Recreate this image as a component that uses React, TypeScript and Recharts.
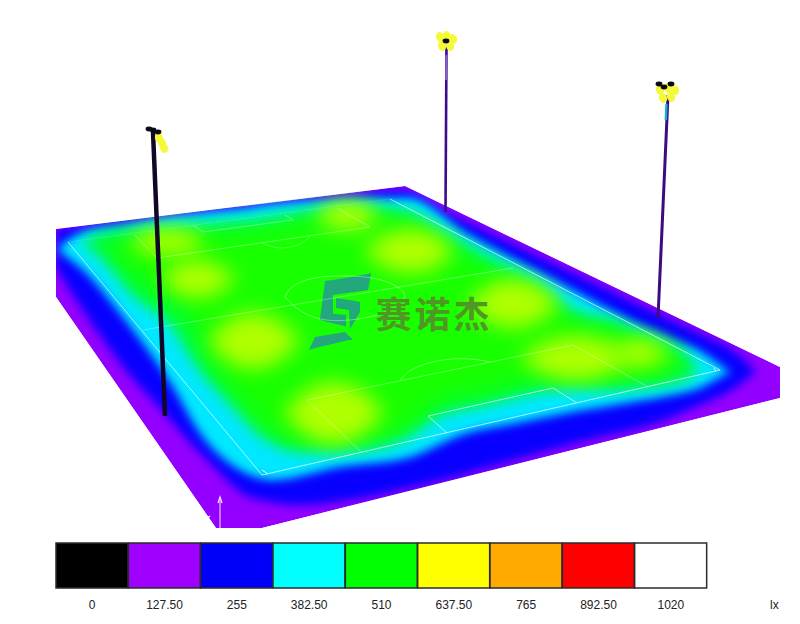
import { Area, Bar, BarChart, Cell, ComposedChart, Line, Scatter, XAxis, YAxis } from "recharts";

// every outline is [x, upper y, lower y] in image pixels
type Row = [number, number, number];
type Pt = [number, number];

const plate: Row[] = [[56, 229, 297], [216, 209, 528], [262, 204, 528], [405, 186, 492], [780, 367, 398]];
const maskTop: Row[] = [[0, 0, 624], [56, 0, 624], [56, 0, 229], [405, 0, 186], [780, 0, 367], [780, 0, 624], [800, 0, 624]];
const maskBottom: Row[] = [[56, 297, 624], [216, 528, 624], [262, 528, 624], [780, 398, 624]];

const blueBand: Row[] = [
  [56, 229, 268], [70, 228, 290], [100, 224, 335], [130, 220, 375], [160, 217, 408], [185, 214, 437],
  [215, 210, 468], [250, 206, 497], [300, 200, 505], [350, 194, 500], [400, 190, 490], [450, 214, 478],
  [500, 238, 464], [550, 262, 450], [600, 286, 437], [650, 310, 425], [700, 334, 405], [735, 352, 388], [755, 370, 372],
];
const cyanBand: Row[] = [
  [60, 246, 252], [83, 232, 270], [123, 225, 317], [173, 216, 387], [200, 213, 433], [240, 209, 470],
  [273, 204, 480], [340, 200, 467], [407, 198, 458], [467, 234, 433], [517, 261, 423], [567, 287, 413],
  [633, 322, 402], [667, 338, 396], [700, 351, 388], [727, 370, 374], [730, 372, 373],
];
const greenBand: Row[] = [
  [83, 240, 244], [107, 233, 262], [130, 231, 292], [170, 228, 325], [200, 226, 370], [233, 223, 405],
  [257, 221, 432], [307, 212, 452], [357, 207, 450], [407, 212, 436], [433, 226, 418], [483, 256, 405],
  [533, 280, 393], [573, 312, 388], [617, 322, 389], [633, 330, 387], [683, 353, 379], [697, 368, 372],
];
const limeBand: Row[] = [
  [110, 242, 255], [150, 236, 285], [190, 234, 315], [215, 232, 365], [250, 230, 410], [300, 222, 440],
  [360, 215, 438], [410, 222, 425], [440, 240, 400], [490, 268, 390], [540, 295, 378], [580, 322, 378],
  [630, 335, 378], [680, 356, 372],
];

const blobs: Row[][] = [
  [[316, 215, 216], [330, 204, 227], [347, 201, 230], [364, 204, 227], [379, 215, 216]],
  [[130, 242, 243], [148, 231, 253], [167, 229, 255], [187, 231, 253], [205, 242, 243]],
  [[160, 278, 279], [178, 265, 293], [197, 260, 298], [217, 265, 293], [236, 278, 279]],
  [[208, 340, 341], [230, 320, 362], [253, 313, 369], [277, 320, 362], [300, 340, 341]],
  [[284, 412, 413], [308, 390, 436], [333, 382, 444], [360, 390, 436], [384, 412, 413]],
  [[364, 250, 251], [388, 234, 268], [410, 229, 273], [434, 234, 268], [454, 250, 251]],
  [[468, 303, 304], [490, 285, 322], [513, 279, 328], [537, 285, 322], [560, 303, 304]],
  [[520, 358, 359], [548, 341, 375], [577, 336, 380], [605, 341, 375], [630, 358, 359]],
  [[610, 353, 354], [626, 342, 364], [640, 339, 367], [654, 342, 364], [670, 353, 354]],
];

const fieldEdges: Pt[] = [[390, 199], [720, 370], [262, 475], [68, 242]];
const fieldTop: Pt[] = [[68, 242], [390, 199]];
const fieldMarks: Pt[][] = [
  [[143, 330], [513, 268]],
  [[362, 453], [307, 400], [573, 345], [648, 387]],
  [[135, 235], [157, 258], [370, 227], [337, 208]],
  [[193, 225], [203, 232], [293, 220], [285, 215]],
];
const goalBox: Pt[] = [[447, 433], [428, 416], [553, 388], [577, 403]];
const centreCircle: Pt[] = [
  [285, 297], [292, 287], [310, 279], [335, 276], [365, 277], [390, 283], [404, 293],
  [400, 303], [380, 314], [350, 320], [320, 319], [298, 309], [285, 297],
];
const penaltyArc: Pt[] = [[400, 380], [415, 368], [443, 360], [470, 359], [490, 362]];
const upperArc: Pt[] = [[262, 243], [280, 248], [300, 244], [310, 236]];
const cornerArcs: Pt[][] = [[[262, 470], [268, 474]], [[714, 368], [716, 371]]];

const poles: Pt[][] = [[[153, 132], [165, 416]], [[446.5, 45], [445.5, 212]], [[668, 95], [658, 318]]];
const poleTints: Pt[][] = [[[666.5, 104], [665.8, 120]], [[446.4, 55], [446.2, 80]]];
const lampX = [159, 162, 164, 440, 447, 453, 442, 450, 660, 668, 675, 663, 671];
const lampY = [138, 143, 148, 37, 36, 39, 46, 46, 90, 88, 90, 98, 97];
const lampHeadX = [149, 153, 158, 446, 659, 664, 671];
const lampHeadY = [129, 130, 132, 41, 84, 87, 84];

const arrowStem: Pt[] = [[220, 528], [220, 498]];
const arrowHead: Pt[] = [[218, 503], [220, 497], [222, 503]];
const originMark: Pt[] = [[205, 520], [210, 516]];

const logoStem: Row[] = [[320, 319, 320], [325, 281, 321], [333, 280, 322], [333, 280, 295], [368, 274, 290], [371, 273, 274]];
const logoBar: Row[] = [[324, 313, 321], [346, 315, 326.5]];
const logoHook: Row[] = [[336, 298, 308], [349, 300, 310], [350, 300, 329], [360, 302, 312]];
const logoFoot: Row[] = [[309, 350, 350], [315, 337, 348], [345, 332, 341], [348, 335, 340], [353, 340, 340]];
const logoName = ["赛诺杰"];
const logoNameX = [434];
const logoNameY = [328];

const luxLabels = ["0", "127.50", "255", "382.50", "510", "637.50", "765", "892.50", "1020"];
const luxColors = ["#000000", "#a000ff", "#0000f8", "#00ffff", "#00ff00", "#ffff00", "#ffa800", "#ff0000", "#ffffff"];

const toRange = (rows: Row[]) => rows.map(([x, a, b]) => ({ x, range: [a, b] }));
const toPoints = (pts: Pt[]) => pts.map(([x, y]) => ({ x, y }));
const zip = (xs: number[], ys: number[]) => xs.map((x, i) => ({ x, y: ys[i] }));
const legendRows = luxLabels.map((label) => ({ label, cell: 1 }));

const font = "'Liberation Sans', Arial, sans-serif";

const band = (key: string, rows: Row[], fill: string, cls?: string, type: "monotone" | "linear" = "monotone") => (
  <Area
    key={key}
    data={toRange(rows)}
    dataKey="range"
    type={type}
    fill={fill}
    fillOpacity={1}
    stroke="none"
    dot={false}
    activeDot={false}
    className={cls}
    isAnimationActive={false}
  />
);

const path = (key: string, pts: Pt[], stroke: string, width: number, opacity = 1, type: "linear" | "natural" = "linear") => (
  <Line
    key={key}
    data={toPoints(pts)}
    dataKey="y"
    type={type}
    stroke={stroke}
    strokeWidth={width}
    strokeOpacity={opacity}
    dot={false}
    activeDot={false}
    isAnimationActive={false}
  />
);

const LampShape = (p: any) => <ellipse cx={p.cx} cy={p.cy} rx={4} ry={5} fill="#f4f93a" transform={`rotate(-20 ${p.cx} ${p.cy})`} />;
const HeadShape = (p: any) => <ellipse cx={p.cx} cy={p.cy} rx={3.4} ry={2.4} fill="#0a0a14" />;
const NameShape = (p: any) => (
  <text x={p.cx} y={p.cy} textAnchor="middle" fontFamily="'Noto Sans CJK SC'" fontWeight={700} fontSize={36} letterSpacing={3} fill="#4f9824">
    {logoName[0]}
  </text>
);

export default function App() {
  return (
    <div style={{ position: "absolute", left: 0, top: 0, width: 800, height: 624, background: "#fff", overflow: "hidden" }}>
      <style>{`
        .heat-blue .recharts-area-area { filter: blur(5px); }
        .heat-cyan .recharts-area-area { filter: blur(5px); }
        .heat-green .recharts-area-area { filter: blur(7px); }
        .heat-lime .recharts-area-area { filter: blur(11px); }
        .heat-blob .recharts-area-area { filter: blur(10px); }
      `}</style>
      <div style={{ position: "absolute", left: 0, top: 0 }}>
        <ComposedChart width={800} height={624} margin={{ top: 0, right: 0, bottom: 0, left: 0 }}>
          <XAxis dataKey="x" type="number" domain={[0, 800]} hide allowDuplicatedCategory />
          <YAxis type="number" domain={[0, 624]} reversed hide />

          {band("plate", plate, "#9400ff", undefined, "linear")}
          {band("blue", blueBand, "#0800ff", "heat-blue")}
          {band("cyan", cyanBand, "#00e8ff", "heat-cyan")}
          {band("green", greenBand, "#00ff30", "heat-green")}
          {band("lime", limeBand, "#18ff00", "heat-lime")}
          {blobs.map((b, i) => band(`blob${i}`, b, "#b0ff00", "heat-blob"))}
          {band("maskTop", maskTop, "#ffffff", undefined, "linear")}
          {band("maskBottom", maskBottom, "#ffffff", undefined, "linear")}

          {band("logoStem", logoStem, "#22a87c", undefined, "linear")}
          {band("logoBar", logoBar, "#22a87c", undefined, "linear")}
          {band("logoHook", logoHook, "#22a87c", undefined, "linear")}
          {band("logoFoot", logoFoot, "#22a87c", undefined, "linear")}

          {path("fieldEdges", fieldEdges, "#ffffff", 1, 0.65)}
          {path("fieldTop", fieldTop, "#ffffff", 1, 0.12)}
          {fieldMarks.map((l, i) => path(`field${i}`, l, "#ffffff", 1, 0.3))}
          {path("goalBox", goalBox, "#ffffff", 1, 0.6)}
          {path("circle", centreCircle, "#ffffff", 1, 0.35, "natural")}
          {path("penaltyArc", penaltyArc, "#ffffff", 1, 0.35, "natural")}
          {path("upperArc", upperArc, "#ffffff", 1, 0.25, "natural")}
          {cornerArcs.map((l, i) => path(`corner${i}`, l, "#ffffff", 1, 0.8))}

          {path("pole0", poles[0], "#120628", 4.5)}
          {path("pole1", poles[1], "#3d0a8c", 2.6)}
          {path("pole2", poles[2], "#3d0a80", 3)}
          {path("tint0", poleTints[0], "#10b0d0", 2.4)}
          {path("tint1", poleTints[1], "#8a5cc8", 2.2)}
          {path("arrowStem", arrowStem, "#f4e4ff", 1)}
          {path("arrowHead", arrowHead, "#f4e4ff", 1.2)}
          {path("originMark", originMark, "#ffffff", 1.4)}

          <Scatter data={zip(lampX, lampY)} dataKey="y" shape={LampShape} isAnimationActive={false} />
          <Scatter data={zip(lampHeadX, lampHeadY)} dataKey="y" shape={HeadShape} isAnimationActive={false} />
          <Scatter data={zip(logoNameX, logoNameY)} dataKey="y" shape={NameShape} isAnimationActive={false} />
        </ComposedChart>
      </div>

      <div style={{ position: "absolute", left: 0, top: 530 }}>
        <BarChart
          width={800}
          height={90}
          data={legendRows}
          margin={{ top: 13, right: 93, bottom: 0, left: 56 }}
          barCategoryGap={0}
          barGap={0}
        >
          <XAxis
            dataKey="label"
            interval={0}
            axisLine={false}
            tickLine={false}
            height={32}
            tickMargin={6}
            tick={{ fontSize: 12, fontFamily: font, fill: "#222" }}
          />
          <YAxis type="number" domain={[0, 1]} hide />
          <Bar dataKey="cell" stroke="#2b2b2b" strokeWidth={1.5} isAnimationActive={false}>
            {legendRows.map((r, i) => (
              <Cell key={r.label} fill={luxColors[i]} />
            ))}
          </Bar>
        </BarChart>
      </div>

      <div style={{ position: "absolute", left: 770, top: 598, fontFamily: font, fontSize: 12, color: "#222" }}>lx</div>
    </div>
  );
}
